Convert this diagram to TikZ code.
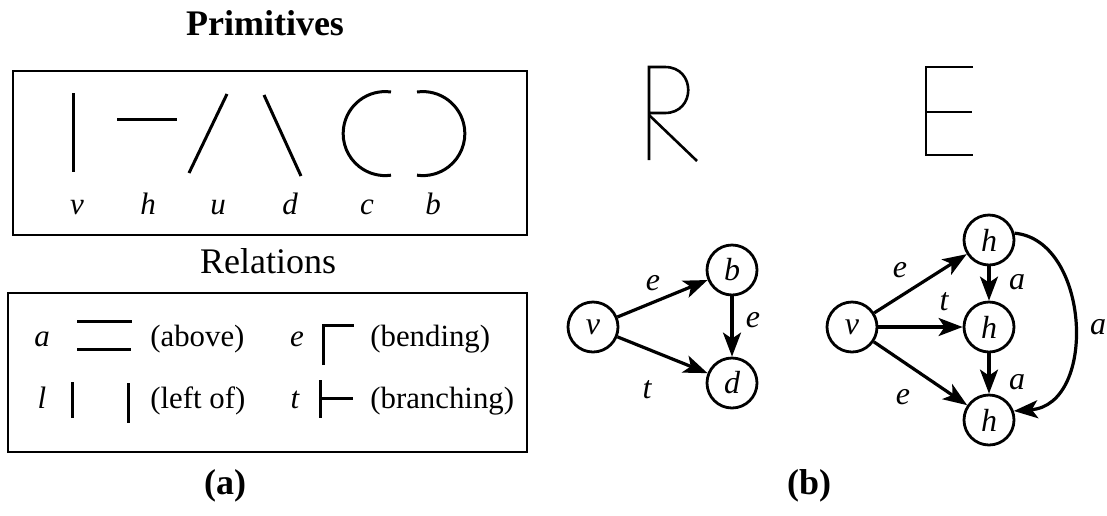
\documentclass[tikz,border=0pt]{standalone}
\usepackage{fontspec}
\setmainfont{Liberation Serif}
\usetikzlibrary{arrows.meta}
\begin{document}
\begin{tikzpicture}[x=0.5pt,y=-0.5pt,
  box/.style={line width=1.1pt},
  prim/.style={line width=1.5pt},
  lab/.style={font=\fontsize{15.5}{16}\selectfont\itshape, inner sep=0pt, anchor=base},
  rel/.style={font=\fontsize{15.4}{16}\selectfont, inner sep=0pt, anchor=base west},
  ttl/.style={font=\fontsize{18}{20}\selectfont, inner sep=0pt, anchor=base},
  captxt/.style={font=\fontsize{18}{20}\selectfont\bfseries, inner sep=0pt, anchor=base},
  gnode/.style={circle, draw, line width=1.4pt, minimum size=25pt, inner sep=0pt, font=\fontsize{16}{16}\selectfont\itshape},
  edge/.style={line width=1.6pt, -{Stealth[length=12pt,width=9pt,inset=3pt]}},
  elab/.style={font=\fontsize{16}{16}\selectfont\itshape, inner sep=0pt},
  letter/.style={line width=1.3pt}]
\useasboundingbox (0,0) rectangle (1107,515);
% ---------- (a) primitives ----------
\node[captxt] (ptitle) at (265,35) {Primitives};
\draw[box] (13,71) rectangle (527,235);
\draw[prim] (73,93) -- (73,172);
\draw[prim] (117,119) -- (177,119);
\draw[prim] (189,173) -- (227,94);
\draw[prim] (264,95) -- (301,176);
\draw[prim] (391,92) arc[start angle=82, end angle=278, radius=21pt];
\draw[prim] (417,92) arc[start angle=98, end angle=-98, radius=21pt];
\node[lab] (lv) at (77,214) {v};
\node[lab] (lh) at (148,214) {h};
\node[lab] (lu) at (218,214) {u};
\node[lab] (ld) at (290,214) {d};
\node[lab] (lc) at (367,214) {c};
\node[lab] (lb) at (433,214) {b};
% ---------- (a) relations ----------
\node[ttl] (rtitle) at (268,273) {Relations};
\draw[box] (8,293) rectangle (527,452);
\node[lab] (ra) at (42,346) {a};
\draw[prim] (77,321) -- (132,321);
\draw[prim] (77,349) -- (131,349);
\node[rel] (tabove) at (150,346) {(above)};
\node[lab] (re) at (297,346) {e};
\draw[prim] (323,365) -- (323,325) -- (354,325);
\node[rel] (tbend) at (370,346) {(bending)};
\node[lab] (rl) at (42,408) {l};
\draw[prim] (72,382) -- (72,418);
\draw[prim] (128,383) -- (128,423);
\node[rel] (tleft) at (150,408) {(left of)};
\node[lab] (rt) at (295,408) {t};
\draw[prim] (320,380) -- (320,418);
\draw[prim] (320,398) -- (353,398);
\node[rel] (tbranch) at (370,408) {(branching)};
\node[captxt] (capa) at (225,494) {(a)};
% ---------- (b) letters ----------
\draw[letter] (649,160) -- (649,67) -- (665,67) .. controls (696,67) and (696,113) .. (665,113) -- (649,113);
\draw[letter] (649,115) -- (697,161);
\draw[letter] (973,67) -- (926,67) -- (926,155) -- (973,155);
\draw[letter] (926,112) -- (972,112);
% ---------- (b) graph R ----------
\node[gnode] (v1) at (593,327) {v};
\node[gnode] (b1) at (732,270) {b};
\node[gnode] (d1) at (732,383) {d};
\draw[edge] (v1) -- (b1);
\draw[edge] (v1) -- (d1);
\draw[edge] (b1) -- (d1);
\node[elab] (e1) at (653,283) {e};
\node[elab] (t1) at (647,390) {t};
\node[elab] (e2) at (753,320) {e};
% ---------- (b) graph E ----------
\node[gnode] (v2) at (852,327) {v};
\node[gnode] (h1) at (989,240) {h};
\node[gnode] (h2) at (989,327) {h};
\node[gnode] (h3) at (989,420) {h};
\draw[edge] (v2) -- (h1);
\draw[edge] (v2) -- (h2);
\draw[edge] (v2) -- (h3);
\draw[edge] (h1) -- (h2);
\draw[edge] (h2) -- (h3);
\draw[edge] (h1.15) .. controls (1090,240) and (1098,405) .. (h3.20);
\node[elab] (e3) at (900,270) {e};
\node[elab] (t2) at (944,302) {t};
\node[elab] (e4) at (903,397) {e};
\node[elab] (a1) at (1017,282) {a};
\node[elab] (a2) at (1017,382) {a};
\node[elab] (a3) at (1098,327) {a};
\node[captxt] (capb) at (809,494) {(b)};
\end{tikzpicture}
\end{document}
